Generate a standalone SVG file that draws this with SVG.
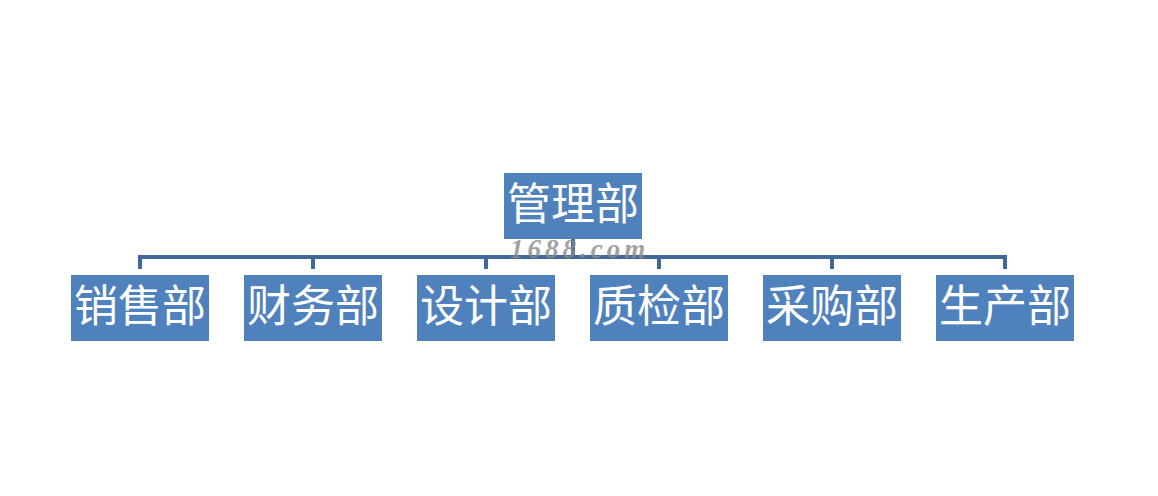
<svg xmlns="http://www.w3.org/2000/svg" width="1158" height="496" viewBox="0 0 1158 496">
<style>
.box{fill:#4F81BD;}
.lbl{fill:#FFFFFF;font-family:"Liberation Serif","Noto Sans CJK SC",serif;font-size:44px;text-anchor:middle;dominant-baseline:central;}
.ln{stroke:#41689A;stroke-width:4;fill:none;}
.wm{fill:#8C8C8C;font-family:"Liberation Serif",serif;font-size:27px;font-style:italic;font-weight:bold;letter-spacing:4px;opacity:0.8;}
</style>
<rect width="1158" height="496" fill="#FFFFFF"/>
<g id="connectors">
<path class="ln" d="M140,269 V257 H1005 V269 M313,257 V269 M486,257 V269 M659,257 V269 M832,257 V269 M573,239 V257"/>
</g>
<g id="n0"><rect class="box" x="504" y="173" width="138" height="66"/><text class="lbl" x="573" y="205">管理部</text></g>
<g id="n1"><rect class="box" x="71" y="275" width="138" height="66"/><text class="lbl" x="140" y="307">销售部</text></g>
<g id="n2"><rect class="box" x="244" y="275" width="138" height="66"/><text class="lbl" x="313" y="307">财务部</text></g>
<g id="n3"><rect class="box" x="417" y="275" width="138" height="66"/><text class="lbl" x="486" y="307">设计部</text></g>
<g id="n4"><rect class="box" x="590" y="275" width="138" height="66"/><text class="lbl" x="659" y="307">质检部</text></g>
<g id="n5"><rect class="box" x="763" y="275" width="138" height="66"/><text class="lbl" x="832" y="307">采购部</text></g>
<g id="n6"><rect class="box" x="936" y="275" width="138" height="66"/><text class="lbl" x="1005" y="307">生产部</text></g>
<text class="wm" x="510" y="258">1688.com</text>
</svg>
